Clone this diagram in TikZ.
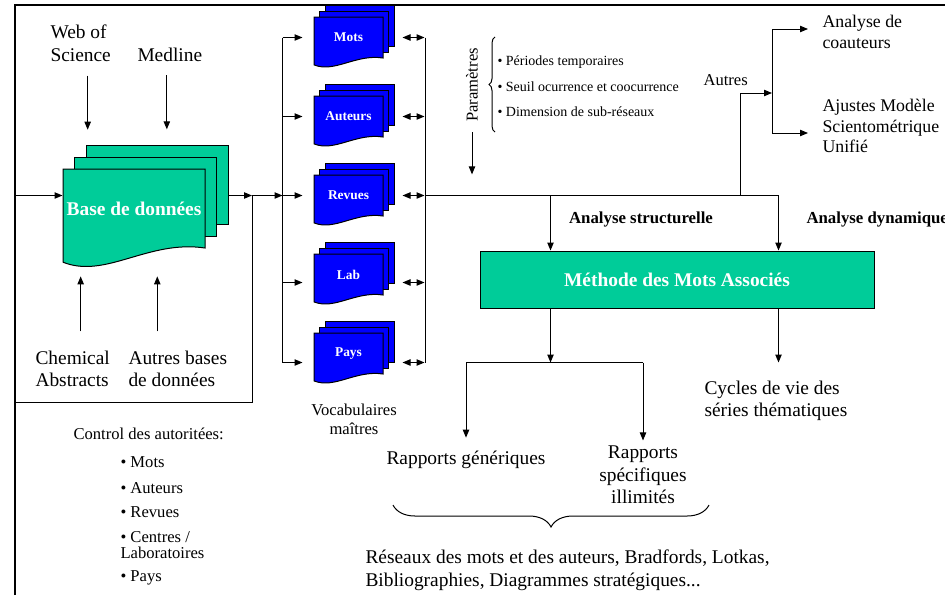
\documentclass[tikz,border=0pt]{standalone}
\usepackage{fontspec}
\setmainfont{Liberation Serif}
\usetikzlibrary{arrows.meta,calc,decorations.pathreplacing}

\definecolor{vertbd}{RGB}{0,204,153}
\definecolor{bleuvoc}{RGB}{0,0,255}

\tikzset{
  gros/.style={font=\fontsize{9.7}{11.3}\selectfont, inner sep=0pt, align=left},
  moyen/.style={font=\fontsize{8.9}{10.2}\selectfont, inner sep=0pt, align=left},
  mince/.style={font=\fontsize{8.3}{9.6}\selectfont, inner sep=0pt},
  petit/.style={font=\fontsize{7}{8}\selectfont, inner sep=0pt},
  gras/.style={font=\bfseries\fontsize{8.4}{10}\selectfont, inner sep=0pt},
  feuillebd/.style={draw=black, fill=vertbd},
  feuillevoc/.style={draw=black, fill=bleuvoc},
  textebd/.style={text=white, font=\bfseries\fontsize{9.7}{11}\selectfont},
  textevoc/.style={text=white, font=\bfseries\fontsize{6.7}{8}\selectfont},
}

% pile de documents: nom, gauche, haut, largeur, hauteur, feuille, texte, contenu
\newcommand{\docpile}[8]{%
  \foreach \k in {2,1}
    \draw[#6] ({#2+\k*#4/12},{#3-\k*#4/12}) rectangle ++(#4,#5);
  \draw[#6] ({#2},{#3}) -- ++(#4,0) -- ++(0,#5)
    .. controls ({#2+0.6*#4},{#3+#5-0.06*#4}) and ({#2+0.3*#4},{#3+#5+0.22*#4})
    .. ({#2},{#3+#5+0.1*#4}) -- cycle;
  \node[#7, inner sep=0pt, minimum width={#4*0.5pt}, minimum height={#5*0.5pt}]
    (#1) at ({#2+#4/2},{#3+#5/2}) {#8};
}

\begin{document}
\begin{tikzpicture}[x=0.5pt, y=-0.5pt, line width=0.5pt,
    >={Triangle[length=4pt,width=3.2pt]}]
  \useasboundingbox (0,0) rectangle (945,595);

  \node[gros, anchor=west] (wos) at (50,43) {Web of\\Science};
  \node[gros, anchor=west] (medline) at (137,55) {Medline};
  \node[gros, anchor=west] (chem) at (35,369) {Chemical\\Abstracts};
  \node[gros, anchor=west] (autresbd) at (128,369) {Autres bases\\de données};

  \docpile{base}{63}{169}{142}{79}{feuillebd}{textebd}{Base de données}

  \draw[->] ($(wos.south)+(7,14)$) -- ++(0,54);
  \draw[->] ($(medline.south)+(-3,13)$) -- ++(0,54);
  \draw[->] ($(chem.north)+(8,-19)$) -- ++(0,-55);
  \draw[->] ($(autresbd.north)+(-20.5,-19)$) -- ++(0,-55);

  \foreach \nom/\txt [count=\i from 0] in {mots/Mots,auteurs/Auteurs,revues/Revues,lab/Lab,pays/Pays}{
    \docpile{\nom}{314}{17+79*\i}{69}{41}{feuillevoc}{textevoc}{\txt}
  }

  \coordinate (entree) at (15,195.5);
  \coordinate (jonction) at (252,195.5);
  \coordinate (busg) at ($(revues.west)+(-31,0)$);
  \coordinate (busd) at ($(revues.east)+(42,0)$);

  \draw[->] (entree) -- (entree -| base.west);
  \draw[->] ($(base.east)+(23,-13)$) -- (jonction);
  \draw[->] (jonction) -- (busg);
  \draw (jonction) -- (252,402) -- (15,402);

  \foreach \nom/\dy in {mots/0,auteurs/0,revues/0,lab/8,pays/9}{
    \draw[->] ($(\nom.west)+(-31,\dy)$) -- ($(\nom.west)+(-11,\dy)$);
    \draw[<->] ($(\nom.east)+(19,\dy)$) -- ($(\nom.east)+(41,\dy)$);
  }
  \draw ($(mots.west)+(-31,0)$) -- ($(pays.west)+(-31,9)$);
  \draw ($(mots.east)+(42,0)$) -- ($(pays.east)+(42,9)$);

  \node[mince, align=center] (vocab) at (354,419) {Vocabulaires\\maîtres};

  \node[mince, anchor=west] (ctrl) at (73,434) {Control des autoritées:};
  \foreach \nom/\txt/\y in {cmots/Mots/462,cauteurs/Auteurs/488,crevues/Revues/512,cpays/Pays/578}
    \node[mince, anchor=west] (\nom) at (120,\y) {• \txt};
  \node[mince, anchor=west, align=left, font=\fontsize{8.3}{8}\selectfont] (ccentres) at (120,545)
    {• Centres /\\Laboratoires};

  \node[mince, rotate=90] (param) at (472,85) {Paramètres};
  \draw[->] ($(param.west)+(0,10)$) -- ++(0,42);
  \draw[decorate, decoration={brace, amplitude=3pt}] (495,132) -- (495,37);
  \foreach \nom/\txt/\y in {periodes/Périodes temporaires/62,seuil/Seuil ocurrence et coocurrence/87,dimension/Dimension de sub-réseaux/112}
    \node[petit, anchor=west] (\nom) at (497,\y) {• \txt};

  \node[draw=black, fill=vertbd, minimum width=197pt, minimum height=28.5pt, inner sep=0pt,
    text=white, font=\bfseries\fontsize{9.7}{11}\selectfont] (methode) at (677,279.5)
    {Méthode des Mots Associés};

  \node[gras] (structurelle) at (641,219) {Analyse structurelle};
  \node[gras, anchor=west] (dynamique) at (806,219) {Analyse dynamique};

  \draw[->] (busd) -| ($(methode.north west)+(71,0)$);
  \draw[->] (busd) -| ($(methode.north west)+(299,0)$);

  \node[mince, anchor=west] (autres) at (703,80) {Autres};
  \node[moyen, anchor=west] (coaut) at (822,32) {Analyse de\\coauteurs};
  \node[moyen, anchor=west] (ajust) at (822,126) {Ajustes Modèle\\Scientométrique\\Unifié};

  \coordinate (autresbus) at (772,93);
  \draw[->] ($(busd)+(315,0)$) |- (autresbus);
  \draw[->] (autresbus) |- ($(coaut.west)+(-14,-3)$);
  \draw[->] (autresbus) |- ($(ajust.west)+(-14,7)$);

  \node[gros] (rapgen) at (466,460) {Rapports génériques};
  \node[gros, align=center] (rapspec) at (643,475) {Rapports\\spécifiques\\illimités};
  \node[gros, anchor=west] (cycles) at (704,401) {Cycles de vie des\\séries thématiques};

  \draw[->] ($(methode.south west)+(71,0)$) -- ++(0,54) coordinate (fourche);
  \draw (fourche -| rapgen.north) -- (fourche -| rapspec.north);
  \draw[->] (fourche -| rapgen.north) -- ($(rapgen.north)+(0,-13)$);
  \draw[->] (fourche -| rapspec.north) -- ($(rapspec.north)+(0,-5)$);
  \draw[->] ($(methode.south west)+(299,0)$) -- ++(0,54);

  \draw[decorate, decoration={brace, amplitude=11pt}] (709,505) -- (393,505);
  \node[gros, anchor=west] (reseaux) at (365,570)
    {Réseaux des mots et des auteurs, Bradfords, Lotkas,\\Bibliographies, Diagrammes stratégiques...};

  \draw[line width=1pt] (15,595) -- (15,5) -- (945,5);
\end{tikzpicture}
\end{document}
